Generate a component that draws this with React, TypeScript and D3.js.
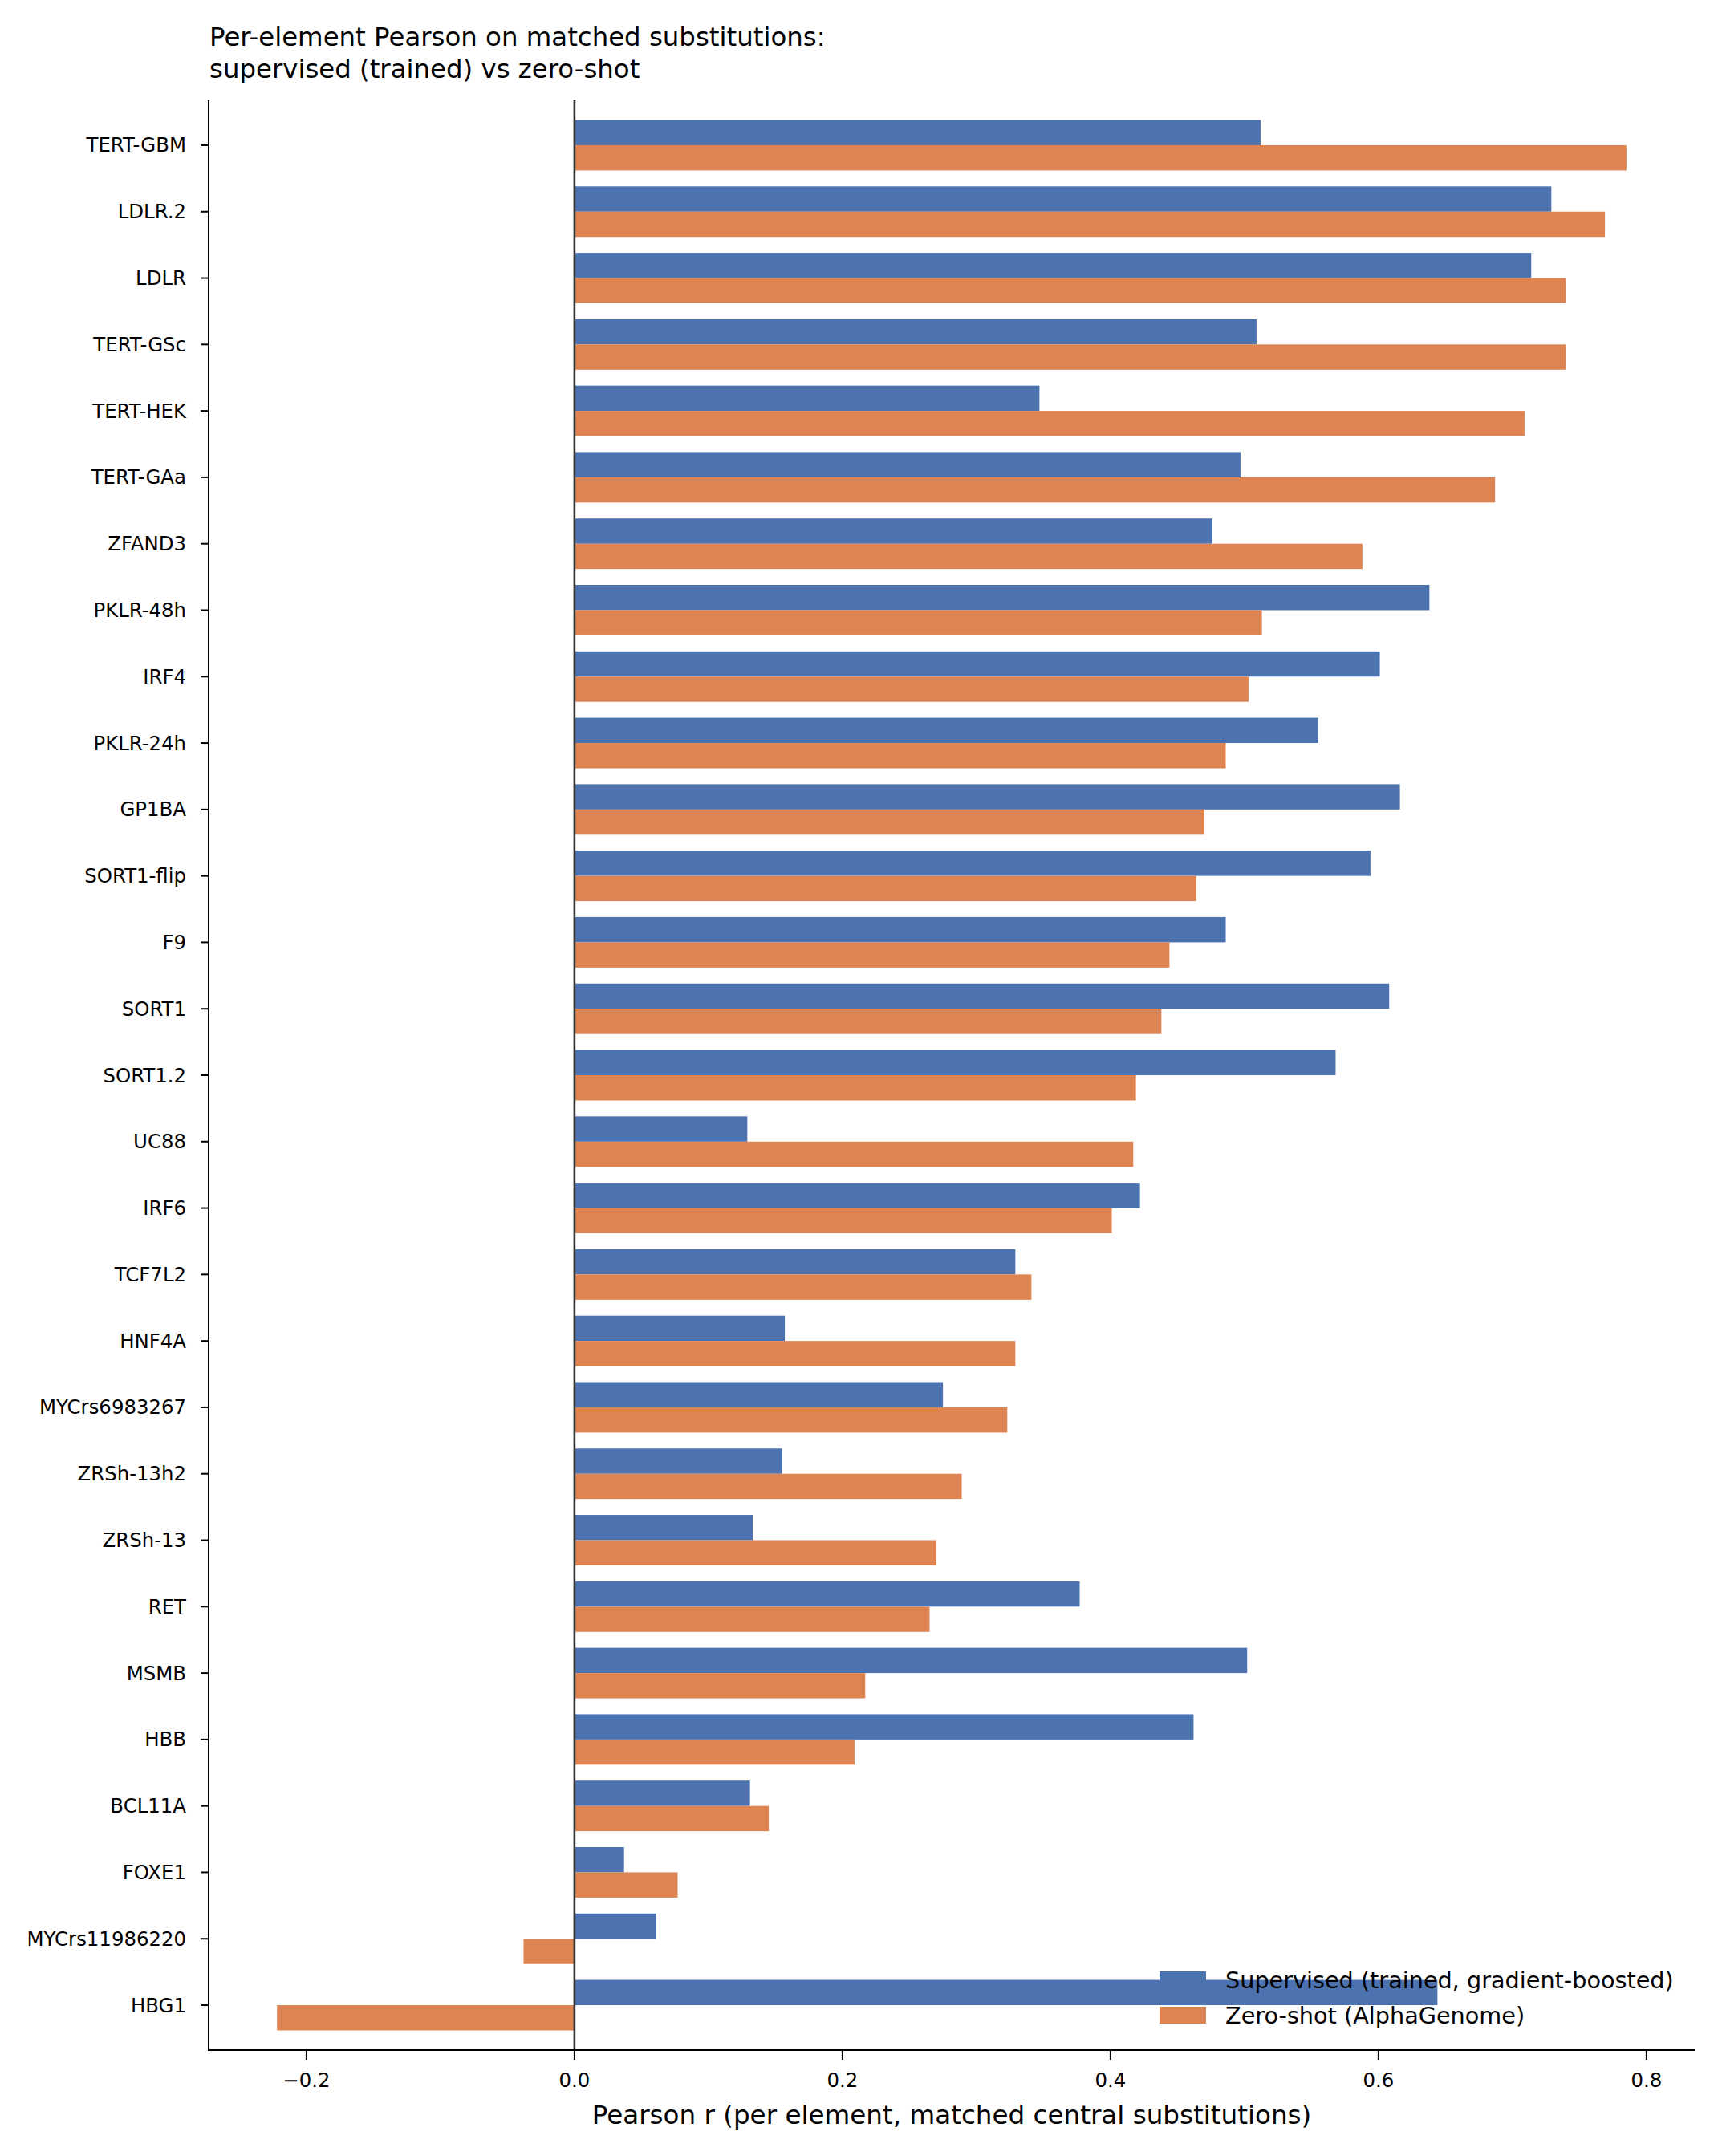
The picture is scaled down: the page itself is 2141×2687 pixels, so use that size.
import React from 'react';
import * as d3 from 'd3';

// per-element Pearson r, top to bottom
const elements = [
  'TERT-GBM', 'LDLR.2', 'LDLR', 'TERT-GSc', 'TERT-HEK', 'TERT-GAa', 'ZFAND3',
  'PKLR-48h', 'IRF4', 'PKLR-24h', 'GP1BA', 'SORT1-flip', 'F9', 'SORT1',
  'SORT1.2', 'UC88', 'IRF6', 'TCF7L2', 'HNF4A', 'MYCrs6983267', 'ZRSh-13h2',
  'ZRSh-13', 'RET', 'MSMB', 'HBB', 'BCL11A', 'FOXE1', 'MYCrs11986220', 'HBG1',
];

const supervised = [
  0.512, 0.729, 0.714, 0.509, 0.347, 0.497, 0.476,
  0.638, 0.601, 0.555, 0.616, 0.594, 0.486, 0.608,
  0.568, 0.129, 0.422, 0.329, 0.157, 0.275, 0.155,
  0.133, 0.377, 0.502, 0.462, 0.131, 0.037, 0.061, 0.644,
];

const zeroShot = [
  0.785, 0.769, 0.740, 0.740, 0.709, 0.687, 0.588,
  0.513, 0.503, 0.486, 0.470, 0.464, 0.444, 0.438,
  0.419, 0.417, 0.401, 0.341, 0.329, 0.323, 0.289,
  0.270, 0.265, 0.217, 0.209, 0.145, 0.077, -0.038, -0.222,
];

const xTicks = [-0.2, 0.0, 0.2, 0.4, 0.6, 0.8];

const seriesNames = ['Supervised (trained, gradient-boosted)', 'Zero-shot (AlphaGenome)'];
const colors = ['#4C72B0', '#DD8452'];

const W = 2141;
const H = 2687;
const left = 260;
const right = 2112;
const top = 125;
const bottom = 2555;
const font = 'DejaVu Sans, sans-serif';

const fmt = (v: number) => (v < 0 ? '\u2212' : '') + d3.format('.1f')(Math.abs(v));

export default function App() {
  const x = d3.scaleLinear().domain([-0.273, 0.836]).range([left, right]);
  const y = d3.scaleLinear().domain([-0.676, elements.length - 1 + 0.676]).range([top, bottom]);
  const barH = y(0.38) - y(0);

  return (
    <svg
      width={W}
      height={H}
      style={{ position: 'absolute', left: 0, top: 0, background: '#fff' }}
      fontFamily={font}
    >
      <rect width={W} height={H} fill="#fff" />
      <text x={left + 1} y={57} fontSize={32.4}>Per-element Pearson on matched substitutions:</text>
      <text x={left + 1} y={97} fontSize={32.4}>supervised (trained) vs zero-shot</text>

      {elements.map((name, i) => {
        const s = supervised[i];
        const z = zeroShot[i];
        const c = y(i);
        return (
          <g key={name}>
            <rect x={x(Math.min(0, s))} y={c - barH} width={Math.abs(x(s) - x(0))} height={barH} fill={colors[0]} />
            <rect x={x(Math.min(0, z))} y={c} width={Math.abs(x(z) - x(0))} height={barH} fill={colors[1]} />
            <line x1={left - 10} x2={left} y1={c} y2={c} stroke="#000" strokeWidth={2} />
            <text x={left - 28} y={c} fontSize={24.4} textAnchor="end" dominantBaseline="central">
              {name}
            </text>
          </g>
        );
      })}

      {/* zero reference line */}
      <line x1={x(0)} x2={x(0)} y1={top} y2={bottom} stroke="#333" strokeWidth={2.6} />

      {/* legend */}
      {seriesNames.map((n, i) => (
        <g key={n}>
          <rect x={1445} y={2457 + i * 44} width={58} height={21} fill={colors[i]} />
          <text x={1527} y={2467.5 + i * 44} fontSize={28.7} dominantBaseline="central">{n}</text>
        </g>
      ))}

      {/* spines */}
      <line x1={left} x2={left} y1={top} y2={bottom + 1} stroke="#000" strokeWidth={2} />
      <line x1={left - 1} x2={right} y1={bottom} y2={bottom} stroke="#000" strokeWidth={2} />

      {xTicks.map((t) => (
        <g key={t}>
          <line x1={x(t)} x2={x(t)} y1={bottom} y2={bottom + 12} stroke="#000" strokeWidth={2} />
          <text x={x(t)} y={2601} fontSize={24.4} textAnchor="middle">{fmt(t)}</text>
        </g>
      ))}

      <text x={(left + right) / 2} y={2647} fontSize={32.6} textAnchor="middle">
        Pearson r (per element, matched central substitutions)
      </text>
    </svg>
  );
}
